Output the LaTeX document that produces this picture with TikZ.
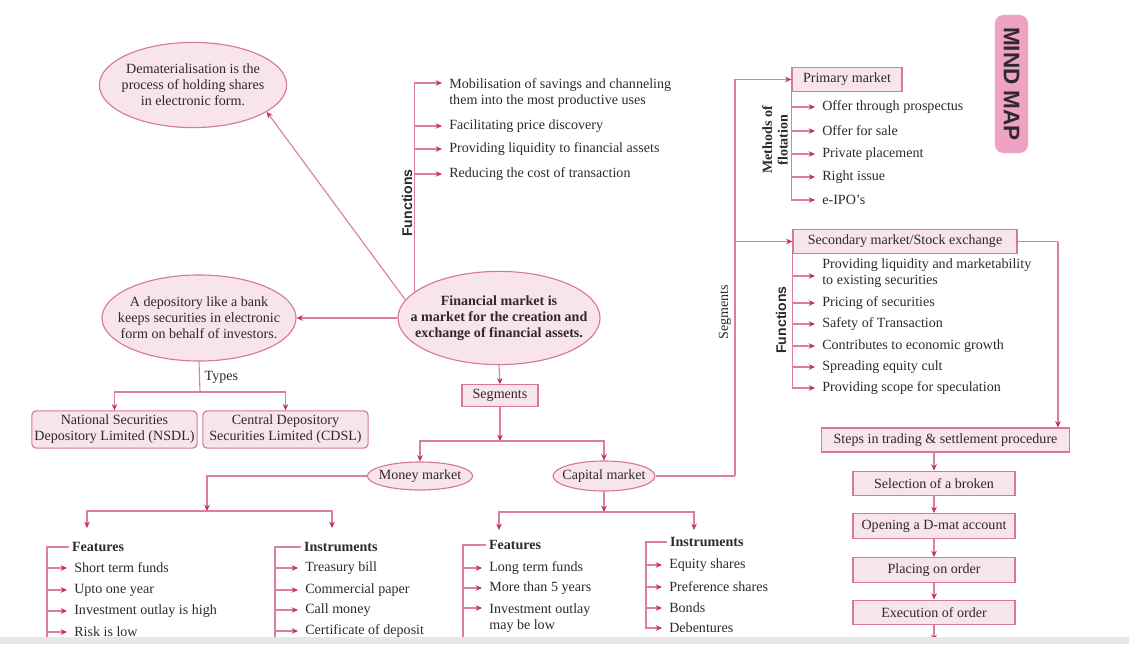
\documentclass[tikz,border=0pt]{standalone}
\usepackage{fontspec}
\setmainfont{Liberation Serif}
\setsansfont{Liberation Sans}
\usetikzlibrary{shapes.geometric,arrows.meta}
\definecolor{mmline}{HTML}{DC7E9C}
\definecolor{mmtip}{HTML}{C42F62}
\definecolor{mmfill}{HTML}{F8E4EB}
\definecolor{mmedge}{HTML}{D77897}
\definecolor{mmtag}{HTML}{EFA2C3}
\definecolor{mmtext}{HTML}{2E2A2B}
\begin{document}
\begin{tikzpicture}[x=0.025cm, y=-0.025cm, >={Stealth[length=4.5pt,width=4pt,color=mmtip]},
every node/.style={text=mmtext, font=\fontsize{10pt}{11.5pt}\selectfont},
oval node/.style={ellipse, draw=mmedge, fill=mmfill, line width=0.8pt, inner xsep=-15pt, inner ysep=0pt, align=center},
box node/.style={rectangle, draw=mmedge, fill=mmfill, line width=0.8pt, inner sep=0pt, align=center},
list node/.style={anchor=west, inner xsep=5pt, inner ysep=0pt, align=left},
head node/.style={anchor=west, inner xsep=2pt, inner ysep=0pt, font=\fontsize{10pt}{11.5pt}\selectfont\bfseries},
side node/.style={rotate=90, inner sep=0pt, align=center},
tag node/.style={rectangle, rounded corners=6pt, fill=mmtag, rotate=-90, font=\sffamily\bfseries\fontsize{16pt}{18pt}\selectfont},
link line/.style={draw=mmline, line width=0.8pt}]
\useasboundingbox (0,0) rectangle (1129,644);

% ovals
\node[oval node, minimum width=4.68cm, minimum height=2.13cm] (demat) at (193,85) {Dematerialisation is the\\process of holding shares\\in electronic form.};
\node[oval node, minimum width=4.85cm, minimum height=2.15cm] (depo) at (199,318) {A depository like a bank\\keeps securities in electronic\\form on behalf of investors.};
\node[oval node, minimum width=5.05cm, minimum height=2.33cm, font=\fontsize{10pt}{11.5pt}\selectfont\bfseries] (fm) at (499,318) {Financial market is\\a market for the creation and\\exchange of financial assets.};
\node[oval node, minimum width=2.63cm, minimum height=0.7cm] (mm) at (420,476) {Money market};
\node[oval node, minimum width=2.55cm, minimum height=0.75cm] (cm) at (604,476) {Capital market};

% depository types
\node[anchor=west, inner sep=1pt] (types) at (203,377) {Types};
\node[box node, rounded corners=3pt, minimum width=4.13cm, minimum height=0.93cm] (nsdl) at (114.5,429.5) {National Securities\\Depository Limited (NSDL)};
\node[box node, rounded corners=3pt, minimum width=4.13cm, minimum height=0.93cm] (cdsl) at (285.5,429.5) {Central Depository\\Securities Limited (CDSL)};
\coordinate (tj) at (200,392);
\draw[link line] (depo.south) -- (tj);
\draw[link line,->] (tj) -| (nsdl.north);
\draw[link line,->] (tj) -| (cdsl.north);

\draw[link line,->] (fm.169) -- (demat.340);
\draw[link line,->] (fm.west) -- (depo.east);

% functions
\node[list node] (fn1) at (442,93) {Mobilisation of savings and channeling\\them into the most productive uses};
\node[list node] (fn2) at (442,126) {Facilitating price discovery};
\node[list node] (fn3) at (442,149) {Providing liquidity to financial assets};
\node[list node] (fn4) at (442,174) {Reducing the cost of transaction};
\node[side node, font=\sffamily\bfseries\fontsize{10pt}{12pt}\selectfont] (fnlab) at (407,203) {Functions};
\coordinate (fa) at (fm.163 |- 0,83);
\draw[link line] (fm.163) -- (fa);
\draw[link line,->] (fa) -- (fa -| fn1.west);
\draw[link line,->] (fm.163 |- fn2.west) -- (fn2.west);
\draw[link line,->] (fm.163 |- fn3.west) -- (fn3.west);
\draw[link line,->] (fm.163 |- fn4.west) -- (fn4.west);

% segments
\node[box node, minimum width=1.9cm, minimum height=0.53cm] (seg) at (500,395.5) {Segments};
\coordinate (sj) at (500,441);
\draw[link line,->] (fm.south) -- (seg.north);
\draw[link line,->] (seg.south) -- (sj);
\draw[link line,->] (sj) -| (mm.north);
\draw[link line,->] (sj) -| (cm.north);

% primary and secondary market
\node[box node, minimum width=2.75cm, minimum height=0.58cm] (pm) at (847,79.5) {Primary market};
\node[box node, minimum width=5.6cm, minimum height=0.58cm] (sm) at (905,241.5) {Secondary market/Stock exchange};
\node[side node] (seglab) at (725,312) {Segments};
\coordinate (st) at (735,476);
\draw[link line] (cm.east) -- (st);
\draw[link line,->] (st) |- (pm.west);
\draw[link line,->] (st |- sm.west) -- (sm.west);

\node[list node] (p1) at (815,107) {Offer through prospectus};
\node[list node] (p2) at (815,131) {Offer for sale};
\node[list node] (p3) at (815,154) {Private placement};
\node[list node] (p4) at (815,177) {Right issue};
\node[list node] (p5) at (815,200) {e-IPO's};
\node[side node, font=\fontsize{10pt}{11pt}\selectfont\bfseries] (mflab) at (775,140) {Methods of\\flotation};
\draw[link line,->] (pm.south west) |- (p5.west);
\draw[link line,->] (pm.south west |- p1.west) -- (p1.west);
\draw[link line,->] (pm.south west |- p2.west) -- (p2.west);
\draw[link line,->] (pm.south west |- p3.west) -- (p3.west);
\draw[link line,->] (pm.south west |- p4.west) -- (p4.west);

\node[list node] (s1) at (815,273) {Providing liquidity and marketability\\to existing securities};
\node[list node] (s2) at (815,303) {Pricing of securities};
\node[list node] (s3) at (815,324) {Safety of Transaction};
\node[list node] (s4) at (815,346) {Contributes to economic growth};
\node[list node] (s5) at (815,367) {Spreading equity cult};
\node[list node] (s6) at (815,388) {Providing scope for speculation};
\node[side node, font=\sffamily\bfseries\fontsize{10pt}{12pt}\selectfont] (sflab) at (781,320) {Functions};
\coordinate (sa) at (sm.south west |- 0,276);
\draw[link line,->] (sm.south west) |- (s6.west);
\draw[link line,->] (sa) -- (sa -| s1.west);
\draw[link line,->] (sm.south west |- s2.west) -- (s2.west);
\draw[link line,->] (sm.south west |- s3.west) -- (s3.west);
\draw[link line,->] (sm.south west |- s4.west) -- (s4.west);
\draw[link line,->] (sm.south west |- s5.west) -- (s5.west);

% trading steps
\node[box node, minimum width=6.18cm, minimum height=0.6cm] (stp) at (945.5,440) {Steps in trading \& settlement procedure};
\node[box node, minimum width=4.05cm, minimum height=0.62cm] (t1) at (934,483.5) {Selection of a broken};
\node[box node, minimum width=4.05cm, minimum height=0.62cm] (t2) at (934,526) {Opening a D-mat account};
\node[box node, minimum width=4.05cm, minimum height=0.62cm] (t3) at (934,570) {Placing on order};
\node[box node, minimum width=4.05cm, minimum height=0.62cm] (t4) at (934,612.5) {Execution of order};
\coordinate (sk) at (1058,241.5);
\coordinate (tend) at (934,641);
\draw[link line] (sm.east) -- (sk);
\draw[link line,->] (sk) -- (sk |- stp.north);
\draw[link line,->] (stp.south -| t1.north) -- (t1.north);
\draw[link line,->] (t1.south) -- (t2.north);
\draw[link line,->] (t2.south) -- (t3.north);
\draw[link line,->] (t3.south) -- (t4.north);
\draw[link line,->] (t4.south) -- (tend);

% money market
\coordinate (mk) at (207,511);
\coordinate (mfa) at (87,528);
\coordinate (mia) at (332,528);
\draw[link line,->] (mm.west) -| (mk);
\draw[link line,->] (mk) -| (mfa);
\draw[link line,->] (mk) -| (mia);
\node[head node] (mfh) at (69,547) {Features};
\node[list node] (mf1) at (67,568) {Short term funds};
\node[list node] (mf2) at (67,590) {Upto one year};
\node[list node] (mf3) at (67,611) {Investment outlay is high};
\node[list node] (mf4) at (67,632) {Risk is low};
\coordinate (mfb) at (47,644);
\draw[link line] (mfh.west) -| (mfb);
\draw[link line,->] (mfb |- mf1.west) -- (mf1.west);
\draw[link line,->] (mfb |- mf2.west) -- (mf2.west);
\draw[link line,->] (mfb |- mf3.west) -- (mf3.west);
\draw[link line,->] (mfb |- mf4.west) -- (mf4.west);
\node[head node] (mih) at (301,547) {Instruments};
\node[list node] (mi1) at (298,568) {Treasury bill};
\node[list node] (mi2) at (298,590) {Commercial paper};
\node[list node] (mi3) at (298,610) {Call money};
\node[list node] (mi4) at (298,631) {Certificate of deposit};
\coordinate (mib) at (275,644);
\draw[link line] (mih.west) -| (mib);
\draw[link line,->] (mib |- mi1.west) -- (mi1.west);
\draw[link line,->] (mib |- mi2.west) -- (mi2.west);
\draw[link line,->] (mib |- mi3.west) -- (mi3.west);
\draw[link line,->] (mib |- mi4.west) -- (mi4.west);

% capital market
\coordinate (ck) at (cm.south |- 0,512);
\coordinate (cfa) at (499,530);
\coordinate (cia) at (694,530);
\draw[link line,->] (cm.south) -- (ck);
\draw[link line,->] (ck) -| (cfa);
\draw[link line,->] (ck) -| (cia);
\node[head node] (cfh) at (486,545) {Features};
\node[list node] (cf1) at (482,568) {Long term funds};
\node[list node] (cf2) at (482,588) {More than 5 years};
\node[list node] (cf3) at (482,618) {Investment outlay\\may be low};
\coordinate (cfb) at (463,644);
\coordinate (cf3a) at (463,608);
\draw[link line] (cfh.west) -| (cfb);
\draw[link line,->] (cfb |- cf1.west) -- (cf1.west);
\draw[link line,->] (cfb |- cf2.west) -- (cf2.west);
\draw[link line,->] (cf3a) -- (cf3a -| cf3.west);
\node[head node] (cih) at (667,542) {Instruments};
\node[list node] (ci1) at (662,565) {Equity shares};
\node[list node] (ci2) at (662,587) {Preference shares};
\node[list node] (ci3) at (662,608) {Bonds};
\node[list node] (ci4) at (662,628) {Debentures};
\coordinate (cit) at (646,542);
\draw[link line,->] (cih.west) -- (cit) |- (ci4.west);
\draw[link line,->] (cit |- ci1.west) -- (ci1.west);
\draw[link line,->] (cit |- ci2.west) -- (ci2.west);
\draw[link line,->] (cit |- ci3.west) -- (ci3.west);

% title tag
\node[tag node, minimum width=3.45cm, minimum height=0.83cm] (tag) at (1011.5,84) {MIND MAP};

\fill[black!9] (0,637) rectangle (1129,644);
\end{tikzpicture}
\end{document}
